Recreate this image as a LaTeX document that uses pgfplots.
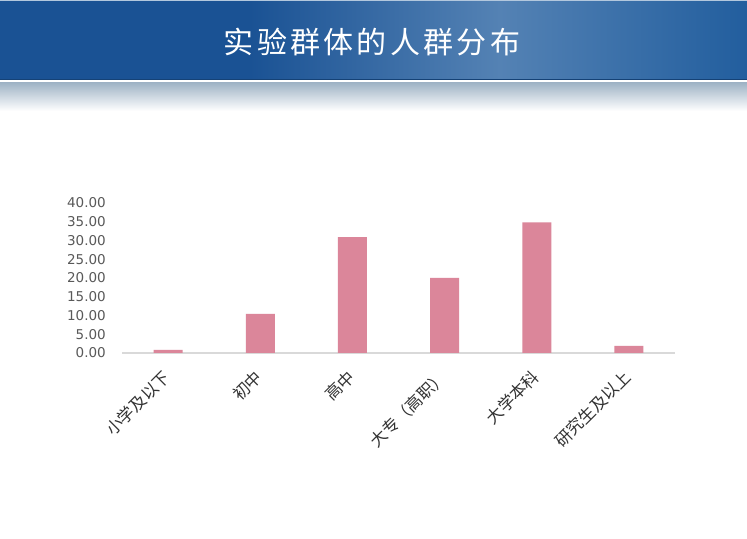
\documentclass[border=0pt]{standalone}
\usepackage{fontspec}
\setmainfont{DejaVu Sans}
\newfontfamily\cjk{Noto Sans CJK SC}
\newfontfamily\cjktitle[LetterSpace=11]{Noto Sans CJK SC}
\usepackage{pgfplots}
\pgfplotsset{compat=1.18}
\definecolor{bandL}{RGB}{26,82,148}
\definecolor{bandM}{RGB}{84,130,180}
\definecolor{bandR}{RGB}{34,94,158}
\definecolor{barpink}{RGB}{219,134,154}
\definecolor{axisgray}{RGB}{217,217,217}
\definecolor{ticktext}{RGB}{89,89,89}
\definecolor{shadowtop}{RGB}{160,180,198}
\begin{document}
\begin{tikzpicture}[x=1bp,y=1bp]
\useasboundingbox (0,0) rectangle (747,539);
\fill[white] (0,0) rectangle (747,539);
% header band
\fill[bandL] (0,459) rectangle (250,539);
\shade[left color=bandL, right color=bandM] (249.5,459) rectangle (500,539);
\shade[left color=bandM, right color=bandR] (499.5,459) rectangle (747,539);
\fill[white!55!bandM] (0,537.5) rectangle (747,539);
\fill[bandL!80!black] (0,459) rectangle (747,460);
\fill[white] (0,456) rectangle (747,459);
\shade[top color=shadowtop, bottom color=white] (0,428) rectangle (747,456);
\node[text=white, font=\cjktitle\fontsize{30bp}{36bp}\selectfont] at (372,497) {实验群体的人群分布};
\coordinate (A) at (122,186);
\begin{axis}[
  at={(A)}, anchor=south west,
  width=553bp, height=150bp, scale only axis,
  ymin=0, ymax=40, xmin=-0.5, xmax=5.5,
  ybar, bar width=29bp,
  xtick={0,1,2,3,4,5},
  xticklabels={小学及以下,初中,高中,大专（高职）,大学本科,研究生及以上},
  ytick={0,5,...,40},
  axis lines*=left,
  axis line style={-},
  x axis line style={draw=axisgray, line width=1.5bp},
  y axis line style={draw=none},
  major tick length=0pt,
  /pgf/number format/assume math mode=true,
  yticklabel style={/pgf/number format/fixed, /pgf/number format/fixed zerofill, /pgf/number format/precision=2},
  yticklabel style={font=\fontsize{13.5bp}{16bp}\selectfont, text=ticktext, anchor=east, inner sep=0pt, xshift=-16bp},
  xticklabel style={font=\cjk\fontsize{16.5bp}{18bp}\selectfont, text=black!80, inner sep=0pt, xshift=-1bp, yshift=-21bp, rotate=45, anchor=east},
  clip=false,
]
\addplot[fill=barpink, draw=none] coordinates {(0,0.8) (1,10.4) (2,30.9) (3,20.0) (4,34.8) (5,1.9)};
\end{axis}
\end{tikzpicture}
\end{document}
